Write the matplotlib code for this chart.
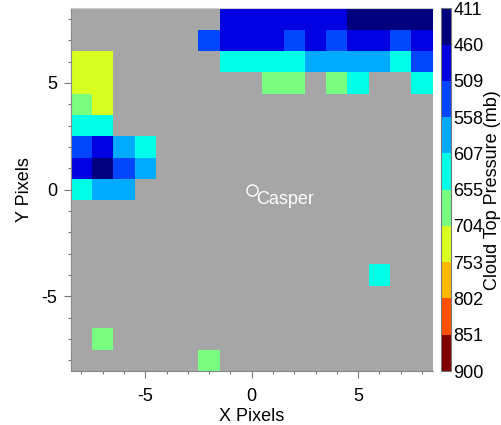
import numpy as np
import matplotlib
matplotlib.use("Agg")
import matplotlib.pyplot as plt
from matplotlib.colors import ListedColormap, BoundaryNorm
from matplotlib.ticker import MultipleLocator

plt.rcParams["font.family"] = ["Liberation Sans", "DejaVu Sans"]
plt.rcParams["axes.unicode_minus"] = False

# cloud-top pressure bins (mb) and their colours, low pressure = dark blue
CTP_BOUNDS = [411, 460, 509, 558, 607, 655, 704, 753, 802, 851, 900]
CTP_COLORS = ["#00007f", "#0000e0", "#0046ff", "#00aaff", "#00ffe6",
              "#78ff80", "#d8ff20", "#ffb800", "#ff5000", "#800000"]

# retrieved pixels around the station: x offset, y offset, pressure (mb)
PIX_X = [-1, 0, 1, 2, 3, 4, 5, 6, 7, 8,
         -2, -1, 0, 1, 2, 3, 4, 5, 6, 7, 8,
         -8, -7, -1, 0, 1, 2, 3, 4, 5, 6, 7, 8,
         -8, -7, 1, 2, 4, 5, 8,
         -8, -7,
         -8, -7,
         -8, -7, -6, -5,
         -8, -7, -6, -5,
         -8, -7, -6,
         6, -7, -2]
PIX_Y = [8] * 10 + [7] * 11 + [6] * 12 + [5] * 7 + [4] * 2 + [3] * 2 \
    + [2] * 4 + [1] * 4 + [0] * 3 + [-4, -7, -8]
PIX_CTP = [485, 485, 485, 485, 485, 485, 435, 435, 435, 435,
           533, 485, 485, 485, 533, 485, 533, 485, 485, 533, 485,
           728, 728, 631, 631, 631, 631, 582, 582, 582, 582, 631, 533,
           728, 728, 680, 680, 680, 631, 631,
           680, 728,
           631, 631,
           533, 485, 582, 631,
           485, 435, 533, 582,
           631, 582, 582,
           631, 680, 680]

STATION = "Casper"
HALF = 8
FS = 13

grid = np.full((2 * HALF + 1, 2 * HALF + 1), np.nan)
for x, y, p in zip(PIX_X, PIX_Y, PIX_CTP):
    grid[y + HALF, x + HALF] = p
grid = np.ma.masked_invalid(grid)

cmap = ListedColormap(CTP_COLORS)
norm = BoundaryNorm(CTP_BOUNDS, cmap.N)
edges = np.arange(-HALF - 0.5, HALF + 1.0, 1.0)

fig = plt.figure(figsize=(5.02, 4.25), dpi=100)
ax = fig.add_axes([0.1408, 0.127, 0.7211, 0.8535])
ax.set_facecolor("#a6a6a6")
ax.pcolormesh(edges, edges, grid, cmap=cmap, norm=norm)

# station marker at the centre pixel
ax.plot([0], [0], "o", ms=8, mfc="none", mec="white", mew=1.0)
ax.text(0.22, -0.08, STATION, color="white", fontsize=FS, ha="left", va="top")

ax.set_xlim(-HALF - 0.5, HALF + 0.5)
ax.set_ylim(-HALF - 0.5, HALF + 0.5)
ax.xaxis.set_major_locator(MultipleLocator(5))
ax.yaxis.set_major_locator(MultipleLocator(5))
ax.xaxis.set_minor_locator(MultipleLocator(1))
ax.yaxis.set_minor_locator(MultipleLocator(1))
ax.tick_params(which="major", length=5, width=0.8, color="#777777", labelsize=FS)
ax.tick_params(which="minor", length=2.5, width=0.8, color="#777777")
ax.tick_params(axis="x", which="major", pad=7)
ax.tick_params(axis="y", which="major", pad=4.5)
for s in ax.spines.values():
    s.set_color("#888888")
    s.set_linewidth(0.8)
ax.spines["top"].set_color("#cccccc")
ax.spines["right"].set_visible(False)
ax.set_xlabel("X Pixels", fontsize=FS, labelpad=2.5)
ax.set_ylabel("Y Pixels", fontsize=FS, labelpad=6.5)

cax = fig.add_axes([0.878, 0.127, 0.0199, 0.8535])
sm = plt.cm.ScalarMappable(cmap=cmap, norm=norm)
cb = fig.colorbar(sm, cax=cax, ticks=CTP_BOUNDS, drawedges=True)
cb.dividers.set_color("#000000")
cb.dividers.set_alpha(0.25)
cb.dividers.set_linewidth(0.6)
cb.outline.set_edgecolor("#777777")
cb.outline.set_linewidth(0.8)
cax.invert_yaxis()
cax.tick_params(length=0, pad=2, labelsize=FS)
cb.set_ticklabels([str(b) for b in CTP_BOUNDS])
cb.set_label("Cloud Top Pressure (mb)", fontsize=FS, labelpad=0)

fig.savefig("out.png", dpi=100)
